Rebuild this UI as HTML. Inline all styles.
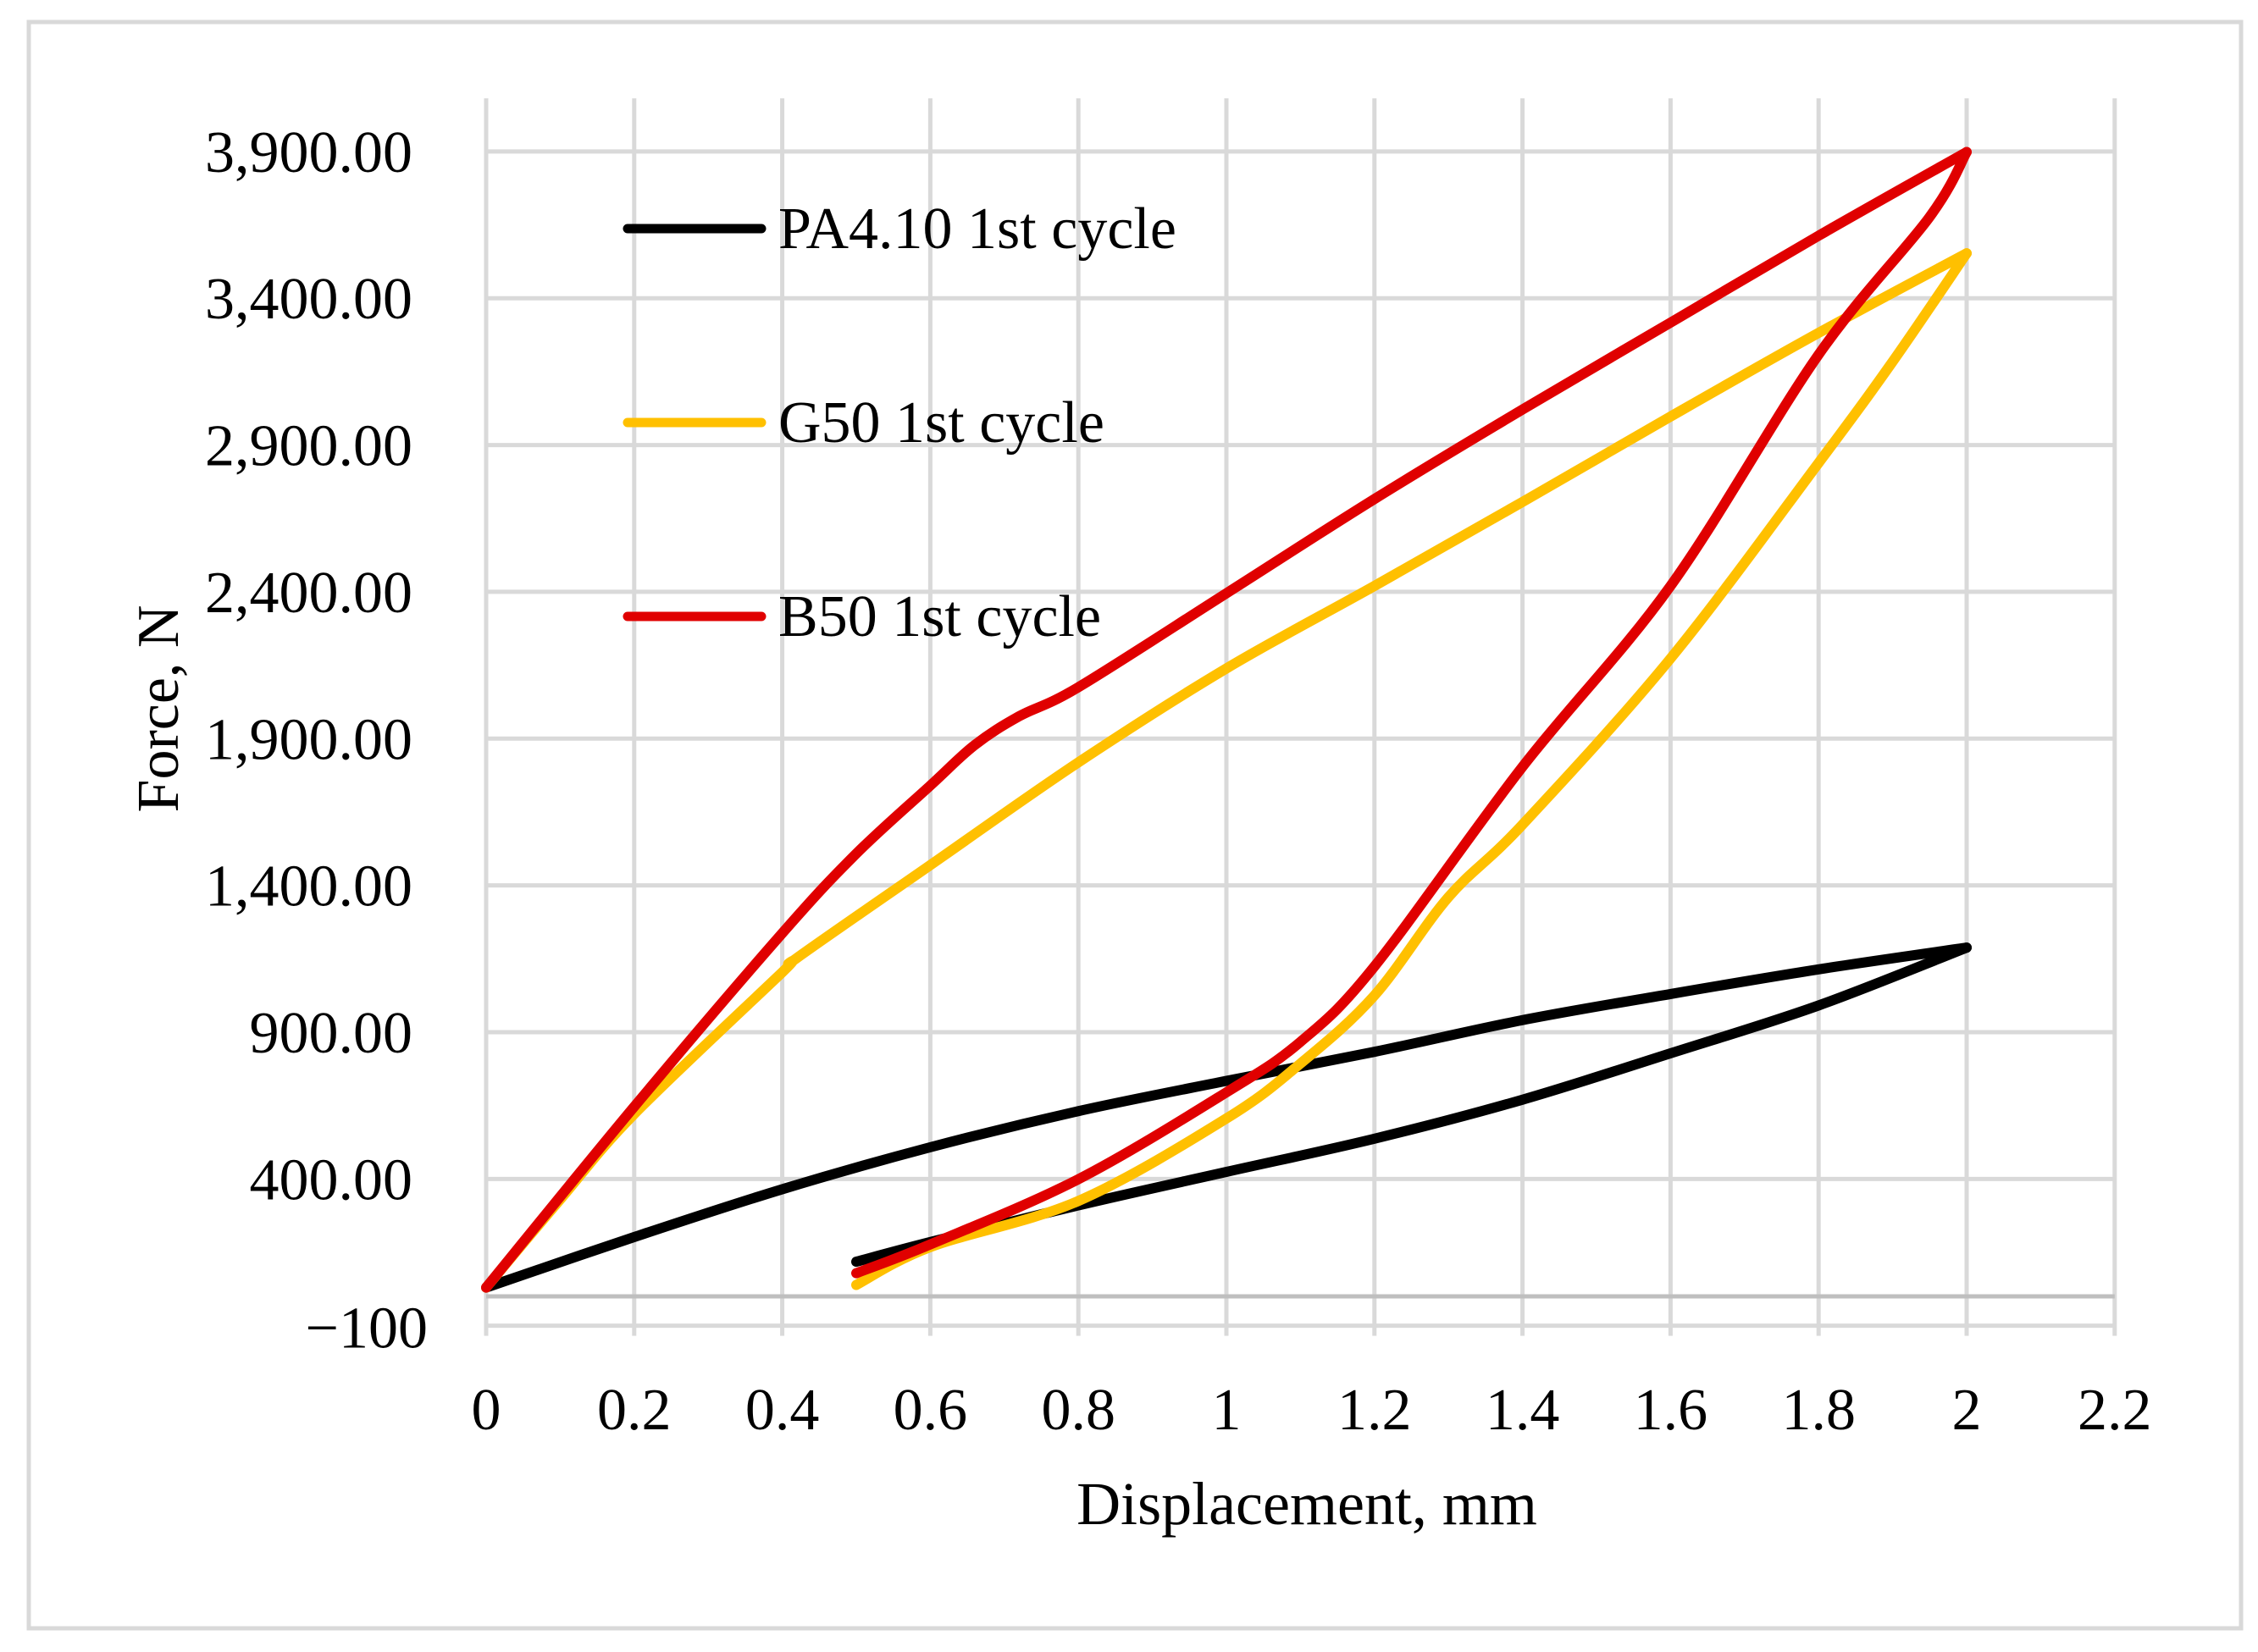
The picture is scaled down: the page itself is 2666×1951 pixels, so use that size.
<!DOCTYPE html>
<html><head><meta charset="utf-8"><style>
html,body{margin:0;padding:0;background:#fff;}
svg text{font-family:"Liberation Serif",serif;fill:#000;}
</style></head><body>
<svg id="chart" width="2666" height="1946" viewBox="0 0 2666 1946" xmlns="http://www.w3.org/2000/svg">
<rect x="34" y="26" width="2612" height="1897" fill="#fff" stroke="#d9d9d9" stroke-width="5"/>
<g id="grid"></g>
<g id="series"></g>
<g id="labels"></g>
<text x="1543" y="1800" font-size="72" text-anchor="middle">Displacement, mm</text>
<text transform="translate(210,837) rotate(-90)" font-size="70" text-anchor="middle">Force, N</text>
<g>
<g><line x1="741" y1="270" x2="899" y2="270" stroke="#000" stroke-width="11" stroke-linecap="round"/><text x="919" y="293" font-size="70">PA4.10 1st cycle</text></g>
<g><line x1="741" y1="499" x2="899" y2="499" stroke="#ffc000" stroke-width="11" stroke-linecap="round"/><text x="919" y="522" font-size="70">G50 1st cycle</text></g>
<g><line x1="741" y1="728" x2="899" y2="728" stroke="#e00000" stroke-width="11" stroke-linecap="round"/><text x="919" y="751" font-size="70">B50 1st cycle</text></g>
</g>
</svg>
<script>
const xTicks=[0,0.2,0.4,0.6,0.8,1,1.2,1.4,1.6,1.8,2,2.2];
const xTickLabels=["0","0.2","0.4","0.6","0.8","1","1.2","1.4","1.6","1.8","2","2.2"];
const yTicks=[3900,3400,2900,2400,1900,1400,900,400,-100];
const yTickLabels=["3,900.00","3,400.00","2,900.00","2,400.00","1,900.00","1,400.00","900.00","400.00","\u2212100"];
const paX=[0,0.2,0.4,0.6,0.8,1.0,1.2,1.4,1.6,1.8,2.0,1.8,1.6,1.4,1.2,1.0,0.8,0.6,0.5];
const paY=[30,202,365,508,631,734,833,941,1030,1114,1188,991,828,670,537,424,310,185,118];
const g50X=[0,0.1,0.2,0.4,0.42,0.6,0.8,1.0,1.2,1.4,1.6,1.8,2.0,1.9,1.8,1.6,1.4,1.3,1.2,1.1,1.0,0.8,0.6,0.5];
const g50Y=[30,330,621,1104,1153,1469,1819,2139,2420,2706,2997,3282,3553,3184,2839,2173,1607,1360,1025,793,606,325,168,39];
const b50X=[0,0.2,0.4,0.5,0.6,0.66,0.72,0.8,1.0,1.2,1.4,1.6,1.8,2.0,1.95,1.8,1.6,1.4,1.2,1.1,1.0,0.8,0.6,0.5];
const b50Y=[30,646,1237,1508,1740,1878,1976,2075,2395,2716,3021,3317,3613,3898,3677,3208,2420,1804,1124,867,695,399,177,79];
const NS="http://www.w3.org/2000/svg";
function xs(v){return 574+v*874;}
function ys(v){return 1531-v*0.3467;}
const gridG=document.getElementById('grid'),labelsG=document.getElementById('labels'),seriesG=document.getElementById('series');
const plotTop=ys(4081),plotBot=ys(-100);
xTicks.forEach((t,i)=>{
 const l=document.createElementNS(NS,'line');
 
 
 l.setAttribute('x1',xs(t));l.setAttribute('x2',xs(t));l.setAttribute('y1',plotTop);l.setAttribute('y2',plotBot+12);
 l.setAttribute('stroke','#d9d9d9');l.setAttribute('stroke-width','5');gridG.appendChild(l);
 const tx=document.createElementNS(NS,'text');
 
 
 tx.setAttribute('x',xs(t));tx.setAttribute('y',1688);tx.setAttribute('font-size','70');tx.setAttribute('text-anchor','middle');
 tx.textContent=xTickLabels[i];labelsG.appendChild(tx);
});
yTicks.forEach((t,i)=>{
 const l=document.createElementNS(NS,'line');
 
 
 l.setAttribute('x1',xs(0));l.setAttribute('x2',xs(2.2));l.setAttribute('y1',ys(t));l.setAttribute('y2',ys(t));
 l.setAttribute('stroke','#d9d9d9');l.setAttribute('stroke-width','5');gridG.appendChild(l);
 const tx=document.createElementNS(NS,'text');
 
 
 tx.setAttribute('x',t===-100?505:487);tx.setAttribute('y',ys(t)+(t===-100?26:24));tx.setAttribute('font-size','70');tx.setAttribute('text-anchor','end');
 tx.textContent=yTickLabels[i];labelsG.appendChild(tx);
});
const ax=document.createElementNS(NS,'line');


ax.setAttribute('x1',xs(0));ax.setAttribute('x2',xs(2.2));ax.setAttribute('y1',ys(0));ax.setAttribute('y2',ys(0));
ax.setAttribute('stroke','#bfbfbf');ax.setAttribute('stroke-width','5');gridG.appendChild(ax);
function smoothPath(P){
 let d='M'+P[0][0]+','+P[0][1];
 for(let i=0;i<P.length-1;i++){
  const p0=P[Math.max(0,i-1)],p1=P[i],p2=P[i+1],p3=P[Math.min(P.length-1,i+2)];
  const c1=[p1[0]+(p2[0]-p0[0])/6,p1[1]+(p2[1]-p0[1])/6];
  const c2=[p2[0]-(p3[0]-p1[0])/6,p2[1]-(p3[1]-p1[1])/6];
  d+=' C'+c1[0]+','+c1[1]+' '+c2[0]+','+c2[1]+' '+p2[0]+','+p2[1];
 }
 return d;
}
function draw(X,Y,color,name){
 const pts=X.map((x,i)=>[xs(x),ys(Y[i])]);
 const peak=X.indexOf(Math.max.apply(null,X));
 [pts.slice(0,peak+1),pts.slice(peak)].forEach(seg=>{
  const p=document.createElementNS(NS,'path');
  
  
  p.setAttribute('d',smoothPath(seg));
  p.setAttribute('fill','none');p.setAttribute('stroke',color);p.setAttribute('stroke-width','12');
  p.setAttribute('stroke-linejoin','round');p.setAttribute('stroke-linecap','round');
  seriesG.appendChild(p);
 });
}
draw(paX,paY,'#000000','series-pa410');
draw(g50X,g50Y,'#ffc000','series-g50');
draw(b50X,b50Y,'#e00000','series-b50');
</script>
</body></html>
